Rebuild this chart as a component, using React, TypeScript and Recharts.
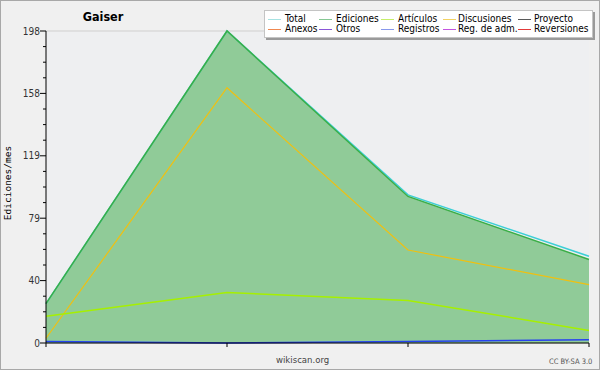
import { Area, CartesianGrid, ComposedChart, Legend, Line, XAxis, YAxis } from "recharts"

const months = ["2016-01", "2016-02", "2016-03", "2016-04"]
const total = [25, 198, 94, 55]
const ediciones = [25, 198, 93, 53]
const articulos = [17, 32, 27, 8]
const discusiones = [3, 162, 59, 37]
const registros = [1, 0, 1, 2]

const yTicks = [
  0, 9.9, 19.8, 29.7, 39.6, 49.5, 59.4, 69.3, 79.2, 89.1, 99, 108.9, 118.8, 128.7, 138.6, 148.5, 158.4, 168.3,
  178.2, 188.1, 198,
]
const yMajor = [0, 39.6, 79.2, 118.8, 158.4, 198]

const legendItems = [
  { name: "Total", color: "#a6e2e2" },
  { name: "Ediciones", color: "#86c894" },
  { name: "Artículos", color: "#c6ee6a" },
  { name: "Discusiones", color: "#f2d264" },
  { name: "Proyecto", color: "#5a5a5a" },
  { name: "Anexos", color: "#f08850" },
  { name: "Otros", color: "#8a56d8" },
  { name: "Registros", color: "#8898ec" },
  { name: "Reg. de adm.", color: "#c454e0" },
  { name: "Reversiones", color: "#e23a3a" },
]

const data = months.map((m, i) => ({
  month: m,
  total: total[i],
  ediciones: ediciones[i],
  articulos: articulos[i],
  discusiones: discusiones[i],
  registros: registros[i],
}))

const font = "'DejaVu Sans Condensed', 'DejaVu Sans', sans-serif"

function YTick(props: any) {
  const { x, y, payload, index } = props
  const major = index % 4 === 0
  return (
    <g>
      <line x1={x - (major ? 6 : 3)} x2={x} y1={y} y2={y} stroke="#000" />
      {major && (
        <text x={x - 6} y={y} dy={3.5} textAnchor="end" fontSize={10} fill="#333" fontFamily={font}>
          {Math.round(payload.value)}
        </text>
      )}
    </g>
  )
}

function LegendBox() {
  return (
    <div
      style={{
        position: "relative",
        width: 327,
        height: 26,
        background: "#fff",
        border: "1px solid #c4c4c4",
        boxShadow: "2px 2px 0 #9a9a9a",
        fontFamily: font,
        fontSize: 10,
        color: "#000",
      }}
    >
      {legendItems.map((item, i) => {
        const col = i % 5
        const row = Math.floor(i / 5)
        const lineLeft = [3, 54, 116, 178, 253][col]
        const textLeft = [20, 71, 133, 193, 269][col]
        return (
          <div key={item.name}>
            <div
              style={{
                position: "absolute",
                left: lineLeft,
                top: 8 + row * 10,
                width: 13,
                height: 1,
                background: item.color,
              }}
            />
            <div style={{ position: "absolute", left: textLeft, top: 3 + row * 10, lineHeight: "10px", whiteSpace: "nowrap" }}>
              {item.name}
            </div>
          </div>
        )
      })}
    </div>
  )
}

export default function App() {
  return (
    <div style={{ position: "absolute", left: 0, top: 0, width: 600, height: 370, background: "#f0f0f0" }}>
      <ComposedChart width={600} height={370} data={data} margin={{ top: 31, right: 11, left: 8, bottom: 22 }}>
        <CartesianGrid vertical={false} stroke="#cfcfcf" fill="#eeeff1" yAxisId="grid" />
        <XAxis dataKey="month" height={5} stroke="#000" tickSize={4} tickFormatter={() => ""} interval={0} />
        <YAxis yAxisId="grid" domain={[0, 198]} ticks={yMajor} hide />
        <YAxis
          domain={[0, 198]}
          ticks={yTicks}
          interval={0}
          width={38}
          stroke="#000"
          tickLine={false}
          tickSize={0}
          tickMargin={0}
          tick={<YTick />}
        />
        <Legend
          layout="horizontal"
          verticalAlign="middle"
          wrapperStyle={{ left: 264, top: 10, width: 330, height: 28 }}
          content={() => <LegendBox />}
        />
        <Area
          dataKey="ediciones"
          stroke="none"
          fill="#78c282"
          fillOpacity={0.8}
          dot={false}
          isAnimationActive={false}
        />
        <Line dataKey="total" stroke="#3ccfd6" strokeWidth={1.5} dot={false} isAnimationActive={false} />
        <Line dataKey="ediciones" stroke="#3aae46" strokeWidth={1.5} dot={false} isAnimationActive={false} />
        <Line dataKey="discusiones" stroke="#f0c010" strokeWidth={1.2} dot={false} isAnimationActive={false} />
        <Line dataKey="articulos" stroke="#a6f000" strokeWidth={1.5} dot={false} isAnimationActive={false} />
        <Line dataKey="registros" stroke="#2642f0" strokeWidth={1.5} dot={false} isAnimationActive={false} />
      </ComposedChart>
      <div
        style={{
          position: "absolute",
          left: 60,
          top: 9,
          width: 86,
          textAlign: "center",
          fontFamily: font,
          fontWeight: "bold",
          fontSize: 12.5,
        }}
      >
        Gaiser
      </div>
      <div
        style={{
          position: "absolute",
          left: 7,
          top: 183,
          transform: "translate(-50%, -50%) rotate(-90deg)",
          fontFamily: "'DejaVu Sans Mono', monospace",
          fontSize: 9.5,
          whiteSpace: "nowrap",
        }}
      >
        Ediciones/mes
      </div>
      <div style={{ position: "absolute", left: 276, top: 354, fontFamily: font, fontSize: 9.5, color: "#444" }}>
        wikiscan.org
      </div>
      <div style={{ position: "absolute", left: 549, top: 357, fontFamily: font, fontSize: 7.5, color: "#555" }}>
        CC BY-SA 3.0
      </div>
      <div style={{ position: "absolute", inset: 0, border: "1px solid #a8a8a8", pointerEvents: "none" }} />
    </div>
  )
}
